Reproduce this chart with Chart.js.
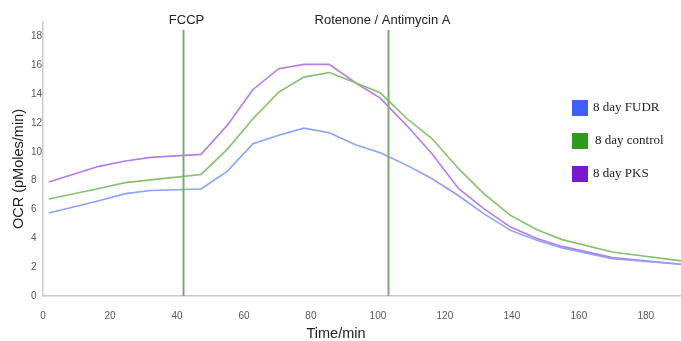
<!DOCTYPE html>
<html>
<head>
<meta charset="utf-8">
<script src="https://cdn.jsdelivr.net/npm/chart.js@4/dist/chart.umd.min.js"></script>
<style>
  body { margin: 0; background: #fff; }
  #wrap { width: 681px; height: 341px; position: relative; }
</style>
</head>
<body>
<div id="wrap"><canvas id="ocrChart"></canvas></div>
<script>
// measurement times (min)
const times = [1.7, 16.7, 24.6, 32.1, 47.2, 55, 62.7, 70.4, 77.9, 85.5, 93.3, 100.7, 108.7, 116.2, 124.1, 131.6, 139.6, 147.5, 155, 170, 190.6];
// OCR values (pMoles/min)
const fudr    = [5.75, 6.6, 7.1, 7.32, 7.42, 8.64, 10.56, 11.14, 11.64, 11.32, 10.49, 9.94, 9.06, 8.13, 6.95, 5.71, 4.55, 3.86, 3.33, 2.59, 2.2];
const control = [6.72, 7.45, 7.86, 8.05, 8.43, 10.17, 12.29, 14.14, 15.18, 15.5, 14.79, 14.09, 12.29, 10.9, 8.83, 7.1, 5.59, 4.6, 3.91, 3.05, 2.43];
const pks     = [7.9, 8.99, 9.36, 9.61, 9.82, 11.83, 14.32, 15.76, 16.06, 16.06, 14.79, 13.72, 11.8, 9.85, 7.44, 6.06, 4.78, 3.98, 3.44, 2.66, 2.2];

const seriesNames = ["8 day FUDR", "8 day control", "8 day PKS"];
const injectionNames = ["FCCP", "Rotenone / Antimycin A"];
const injectionTimes = [41.7, 103.1];
const xTicks = [0, 20, 40, 60, 80, 100, 120, 140, 160, 180];
const yTicks = [0, 2, 4, 6, 8, 10, 12, 14, 16, 18];

const lineColors = ["#8fa1f4", "#86c070", "#b57de8"];
const legendColors = ["#3f5efb", "#2f9a1f", "#7b17cf"];

function toPoints(vals) {
    return times.map((t, i) => ({ x: t, y: vals[i] }));
}

// injection lines + labels, axis titles, legend
const extras = {
    id: "extras",
    afterDatasetsDraw(chart) {
        const ctx = chart.ctx;
        const xs = chart.scales.x;
        const ys = chart.scales.y;
        const area = chart.chartArea;
        const labelShift = [3, -6];

        ctx.save();
        ctx.strokeStyle = "#7aab78";
        ctx.lineWidth = 2;
        injectionTimes.forEach((t, i) => {
            const px = Math.round(xs.getPixelForValue(t)) + 0.5;
            ctx.beginPath();
            ctx.moveTo(px, ys.getPixelForValue(18.45));
            ctx.lineTo(px, area.bottom);
            ctx.stroke();

            ctx.fillStyle = "#222";
            ctx.font = "13px 'Liberation Sans', Arial, sans-serif";
            ctx.textAlign = "center";
            ctx.textBaseline = "middle";
            ctx.fillText(injectionNames[i], px + labelShift[i], 20);
        });

        // axis titles
        ctx.fillStyle = "#222";
        ctx.font = "14.5px 'Liberation Sans', Arial, sans-serif";
        ctx.textAlign = "center";
        ctx.textBaseline = "middle";
        ctx.fillText("Time/min", 336, 334);

        ctx.save();
        ctx.translate(19, 169);
        ctx.rotate(-Math.PI / 2);
        ctx.fillText("OCR (pMoles/min)", 0, 0);
        ctx.restore();

        // legend
        ctx.font = "13px 'Liberation Serif', 'Times New Roman', serif";
        ctx.textAlign = "left";
        seriesNames.forEach((name, i) => {
            const cy = 108 + i * 33;
            ctx.fillStyle = legendColors[i];
            ctx.fillRect(572, cy - 8, 16, 16);
            ctx.fillStyle = "#222";
            ctx.fillText(name, i === 1 ? 595 : 593, cy);
        });
        ctx.restore();
    }
};

new Chart(document.getElementById("ocrChart"), {
    type: "line",
    data: {
        datasets: [
            { label: seriesNames[0], data: toPoints(fudr), borderColor: lineColors[0] },
            { label: seriesNames[1], data: toPoints(control), borderColor: lineColors[1] },
            { label: seriesNames[2], data: toPoints(pks), borderColor: lineColors[2] }
        ]
    },
    options: {
        responsive: true,
        maintainAspectRatio: false,
        animation: false,
        layout: { padding: { left: 31, top: 22, right: 0, bottom: 0 } },
        elements: {
            line: { borderWidth: 1.6, tension: 0 },
            point: { radius: 0, hoverRadius: 0 }
        },
        plugins: {
            legend: { display: false },
            tooltip: { enabled: false }
        },
        scales: {
            x: {
                type: "linear",
                min: 0,
                max: 190.5,
                afterFit: (s) => { s.height = 45; },
                afterBuildTicks: (s) => { s.ticks = xTicks.map(v => ({ value: v })); },
                grid: { display: false, drawTicks: false },
                border: { display: true, color: "#c9c9c9", width: 1.5 },
                ticks: {
                    padding: 14,
                    color: "#595959",
                    font: { family: "'Liberation Sans', Arial, sans-serif", size: 10 },
                    maxRotation: 0
                }
            },
            y: {
                min: 0,
                max: 19,
                afterFit: (s) => { s.width = 12; },
                afterBuildTicks: (s) => { s.ticks = yTicks.map(v => ({ value: v })); },
                grid: { display: false, drawTicks: false },
                border: { display: true, color: "#c9c9c9", width: 1.5 },
                ticks: {
                    crossAlign: "far",
                    padding: 2,
                    color: "#595959",
                    font: { family: "'Liberation Sans', Arial, sans-serif", size: 10 }
                }
            }
        }
    },
    plugins: [extras]
});
</script>
</body>
</html>
